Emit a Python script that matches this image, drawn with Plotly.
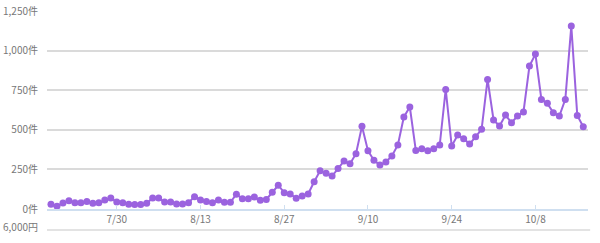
import plotly.graph_objects as go
import pandas as pd

# Daily counts (件), 7/19 .. 10/16
start_date = "2018-07-19"
counts = [30, 18, 38, 52, 40, 40, 48, 36, 40, 57,
          70, 44, 40, 30, 28, 28, 36, 70, 70, 44,
          44, 32, 32, 40, 78, 57, 48, 40, 57, 42,
          42, 93, 65, 65, 75, 55, 60, 105, 150, 103,
          95, 68, 82, 95, 172, 242, 225, 208, 255, 303,
          286, 349, 522, 368, 307, 277, 297, 335, 404, 581,
          644, 370, 381, 368, 381, 404, 755, 398, 467, 444,
          410, 456, 503, 818, 562, 524, 593, 545, 587, 612,
          902, 978, 692, 667, 608, 587, 692, 1155, 591, 519]
dates = pd.date_range(start_date, periods=len(counts), freq="D")

tick_dates = ["2018-07-30", "2018-08-13", "2018-08-27", "2018-09-10", "2018-09-24", "2018-10-08"]
tick_labels = ["7/30", "8/13", "8/27", "9/10", "9/24", "10/8"]
y_ticks = [0, 250, 500, 750, 1000, 1250]
y_labels = ["0件", "250件", "500件", "750件", "1,000件", "1,250件"]
second_label = "6,000円"

purple = "#9b63df"
grid = "#dadada"
txt = "#777777"

fig = go.Figure()
fig.add_trace(go.Scatter(
    x=dates, y=counts, mode="lines+markers",
    line=dict(color=purple, width=2),
    marker=dict(color=purple, size=7),
    showlegend=False, hoverinfo="x+y",
))

x0 = dates[0] - pd.Timedelta(hours=16)
x1 = dates[-1] + pd.Timedelta(hours=19)

fig.update_layout(
    width=600, height=243,
    margin=dict(l=47, r=12, t=11, b=34, autoexpand=False),
    paper_bgcolor="white", plot_bgcolor="white",
    font=dict(family="Noto Sans CJK JP, Noto Sans, sans-serif", size=10, color=txt),
    xaxis=dict(
        type="date", range=[x0, x1], automargin=False,
        tickvals=tick_dates, ticktext=tick_labels,
        showgrid=False, zeroline=False,
        showline=True, linecolor="#cfdff0", linewidth=1.5,
        ticks="inside", ticklen=4, tickcolor="#cfdff0", tickwidth=1,
        tickfont=dict(size=10, color=txt),
    ),
    yaxis=dict(
        range=[0, 1250], tickvals=y_ticks, ticktext=y_labels, automargin=False,
        showgrid=True, gridcolor=grid, gridwidth=1.5,
        zeroline=False, showline=False, ticks="",
        ticklabelstandoff=8,
        tickfont=dict(size=10, color=txt),
    ),
    shapes=[dict(type="line", xref="paper", yref="paper",
                 x0=0.0, x1=1.004, y0=-0.106, y1=-0.106,
                 line=dict(color=grid, width=1.5))],
    annotations=[dict(text=second_label, xref="paper", yref="paper",
                      x=-0.013, y=-0.09, xanchor="right", yanchor="middle",
                      showarrow=False, font=dict(size=10, color=txt))],
)

fig.write_html("out.html")
